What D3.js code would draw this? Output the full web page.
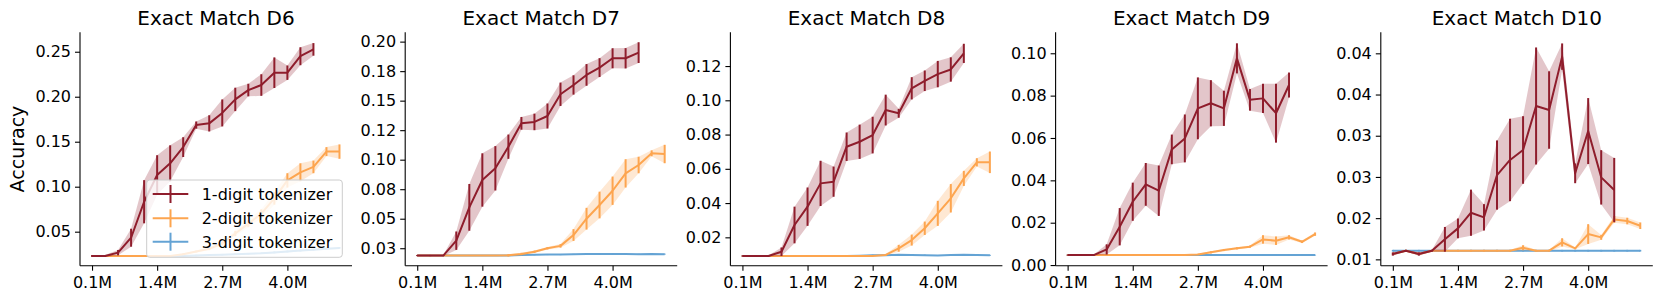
<!DOCTYPE html>
<meta charset="utf-8" />
<script src="https://d3js.org/d3.v7.min.js"></script>
<style>
  body { margin: 0; background: #fff; }
  text { font-family: "DejaVu Sans", sans-serif; fill: #000; }
</style>
<div id="chart"></div>
<script>
  // training samples (millions) at each checkpoint
  const steps = [0.10, 0.36, 0.62, 0.88, 1.14, 1.40, 1.66, 1.92, 2.18, 2.44,
                 2.70, 2.96, 3.22, 3.48, 3.74, 4.00, 4.26, 4.52, 4.78, 5.04];
  const xTicks = [0.1, 1.4, 2.7, 4.0];
  const xTickLabels = ["0.1M", "1.4M", "2.7M", "4.0M"];

  const titles = ["Exact Match D6", "Exact Match D7", "Exact Match D8", "Exact Match D9", "Exact Match D10"];
  const seriesNames = ["1-digit tokenizer", "2-digit tokenizer", "3-digit tokenizer"];

  // y ticks per panel
  const yTicksD6 = [0.05, 0.10, 0.15, 0.20, 0.25];
  const yLabelsD6 = ["0.05", "0.10", "0.15", "0.20", "0.25"];
  const yTicksD7 = [0.025, 0.05, 0.075, 0.10, 0.125, 0.15, 0.175, 0.20];
  const yLabelsD7 = ["0.03", "0.05", "0.08", "0.10", "0.12", "0.15", "0.18", "0.20"];
  const yTicksD8 = [0.02, 0.04, 0.06, 0.08, 0.10, 0.12];
  const yLabelsD8 = ["0.02", "0.04", "0.06", "0.08", "0.10", "0.12"];
  const yTicksD9 = [0.00, 0.02, 0.04, 0.06, 0.08, 0.10];
  const yLabelsD9 = ["0.00", "0.02", "0.04", "0.06", "0.08", "0.10"];
  const yTicksD10 = [0.010, 0.015, 0.020, 0.025, 0.030, 0.035];
  const yLabelsD10 = ["0.01", "0.02", "0.03", "0.03", "0.04", "0.04"];

  // D6
  const d6One = [0.023, 0.023, 0.0267, 0.0433, 0.0833, 0.113, 0.126, 0.144, 0.1685, 0.1704,
                 0.182, 0.197, 0.2074, 0.213, 0.2267, 0.2267, 0.245, 0.2526];
  const d6OneErr = [0.001, 0.001, 0.003, 0.010, 0.024, 0.022, 0.020, 0.011, 0.004, 0.009,
                    0.015, 0.013, 0.007, 0.012, 0.017, 0.008, 0.010, 0.007];
  const d6Two = [0.023, 0.023, 0.023, 0.023, 0.023, 0.023, 0.023, 0.025, 0.028, 0.031,
                 0.037, 0.048, 0.059, 0.070, 0.087, 0.107, 0.116, 0.122, 0.139, 0.139];
  const d6TwoErr = [0.0005, 0.0005, 0.0005, 0.0005, 0.0005, 0.0005, 0.0005, 0.001, 0.001, 0.0015,
                    0.002, 0.003, 0.004, 0.005, 0.007, 0.008, 0.010, 0.007, 0.005, 0.008];
  const d6Three = [0.023, 0.023, 0.023, 0.023, 0.023, 0.023, 0.023, 0.023, 0.0235, 0.024,
                   0.0245, 0.025, 0.0255, 0.026, 0.027, 0.028, 0.029, 0.030, 0.031, 0.032];
  const d6ThreeErr = [0.0005, 0.0005, 0.0005, 0.0005, 0.0005, 0.0005, 0.0005, 0.0005, 0.0008, 0.0008,
                      0.0008, 0.0008, 0.0008, 0.0008, 0.001, 0.001, 0.001, 0.001, 0.001, 0.001];

  // D7
  const d7One = [0.0188, 0.0188, 0.0188, 0.0314, 0.0596, 0.0828, 0.0927, 0.111, 0.1308, 0.132,
                 0.137, 0.1554, 0.1633, 0.1718, 0.178, 0.1859, 0.1859, 0.1907];
  const d7OneErr = [0.0005, 0.0005, 0.0005, 0.0078, 0.0198, 0.0226, 0.0188, 0.0103, 0.0054, 0.007,
                    0.0106, 0.0099, 0.0082, 0.0092, 0.008, 0.0085, 0.0086, 0.0088];
  const d7Two = [0.0188, 0.0188, 0.0188, 0.0188, 0.0188, 0.0188, 0.0188, 0.019, 0.0201, 0.022,
                 0.025, 0.027, 0.0362, 0.050, 0.0616, 0.0737, 0.0884, 0.0955, 0.1054, 0.1048];
  const d7TwoErr = [0.0003, 0.0003, 0.0003, 0.0003, 0.0003, 0.0003, 0.0003, 0.001, 0.001, 0.001,
                    0.001, 0.0015, 0.005, 0.0092, 0.0113, 0.012, 0.012, 0.007, 0.0025, 0.0078];
  const d7Three = [0.0188, 0.0188, 0.0188, 0.0188, 0.0188, 0.0188, 0.0188, 0.0188, 0.0192, 0.0195,
                   0.0196, 0.0196, 0.0198, 0.0201, 0.0201, 0.0202, 0.0201, 0.0199, 0.0201, 0.0200];
  const d7ThreeErr = [0.0003, 0.0003, 0.0003, 0.0003, 0.0003, 0.0003, 0.0003, 0.0003, 0.0004, 0.0004,
                      0.0004, 0.0004, 0.0004, 0.0004, 0.0004, 0.0004, 0.0004, 0.0004, 0.0004, 0.0004];

  // D8
  const d8One = [0.0091, 0.0091, 0.0091, 0.0116, 0.0272, 0.0379, 0.0515, 0.0525, 0.0729, 0.0758,
                 0.0797, 0.0943, 0.0924, 0.107, 0.1114, 0.1153, 0.118, 0.1274];
  const d8OneErr = [0.0003, 0.0003, 0.0003, 0.0025, 0.0107, 0.0112, 0.0132, 0.0088, 0.0083, 0.010,
                    0.0107, 0.009, 0.0026, 0.0065, 0.006, 0.0077, 0.0071, 0.0056];
  const d8Two = [0.0091, 0.0091, 0.0091, 0.0091, 0.0091, 0.0091, 0.0091, 0.0091, 0.0091, 0.0091,
                 0.0091, 0.0097, 0.0136, 0.0184, 0.0253, 0.034, 0.0428, 0.0544, 0.0638, 0.0638];
  const d8TwoErr = [0.0002, 0.0002, 0.0002, 0.0002, 0.0002, 0.0002, 0.0002, 0.0002, 0.0002, 0.0002,
                    0.0002, 0.0005, 0.002, 0.0032, 0.0039, 0.0073, 0.0083, 0.0044, 0.0024, 0.0063];
  const d8Three = [0.0091, 0.0091, 0.0091, 0.0091, 0.0091, 0.0091, 0.0091, 0.0091, 0.0091, 0.0093,
                   0.0095, 0.0096, 0.0098, 0.0097, 0.0096, 0.0094, 0.0097, 0.0098, 0.0097, 0.0095];
  const d8ThreeErr = [0.0002, 0.0002, 0.0002, 0.0002, 0.0002, 0.0002, 0.0002, 0.0002, 0.0002, 0.0003,
                      0.0003, 0.0003, 0.0003, 0.0003, 0.0003, 0.0003, 0.0003, 0.0003, 0.0003, 0.0003];

  // D9
  const d9One = [0.0047, 0.0047, 0.0047, 0.0074, 0.0181, 0.0299, 0.0381, 0.0351, 0.0546, 0.0598,
                 0.074, 0.0764, 0.074, 0.0976, 0.078, 0.0787, 0.0717, 0.085];
  const d9OneErr = [0.0002, 0.0002, 0.0002, 0.0024, 0.0088, 0.009, 0.0101, 0.0119, 0.007, 0.0113,
                    0.0146, 0.0109, 0.0083, 0.0071, 0.0051, 0.0069, 0.0139, 0.0059];
  const d9Two = [0.0047, 0.0047, 0.0047, 0.0047, 0.0047, 0.0047, 0.0047, 0.0047, 0.0047, 0.0047,
                 0.0050, 0.0060, 0.0071, 0.0079, 0.0087, 0.0121, 0.0115, 0.0131, 0.0110, 0.0146];
  const d9TwoErr = [0.0002, 0.0002, 0.0002, 0.0002, 0.0002, 0.0002, 0.0002, 0.0002, 0.0002, 0.0002,
                    0.0003, 0.0005, 0.0005, 0.0005, 0.0005, 0.002, 0.002, 0.001, 0.0006, 0.0008];
  const d9Three = [0.0047, 0.0047, 0.0047, 0.0047, 0.0047, 0.0047, 0.0047, 0.0047, 0.0047, 0.0047,
                   0.0047, 0.0047, 0.0047, 0.0047, 0.0047, 0.0047, 0.0047, 0.0047, 0.0047, 0.0047];
  const d9ThreeErr = [0.0002, 0.0002, 0.0002, 0.0002, 0.0002, 0.0002, 0.0002, 0.0002, 0.0002, 0.0002,
                      0.0002, 0.0002, 0.0002, 0.0002, 0.0002, 0.0002, 0.0002, 0.0002, 0.0002, 0.0002];

  // D10
  const d10One = [0.01065, 0.01105, 0.01065, 0.01105, 0.01243, 0.01376, 0.01566, 0.0151, 0.02023, 0.02206,
                  0.02327, 0.02861, 0.02812, 0.0346, 0.02044, 0.02557, 0.01995, 0.01841];
  const d10OneErr = [0.0002, 0.0001, 0.0002, 0.0001, 0.0015, 0.0012, 0.0028, 0.0016, 0.0042, 0.005,
                     0.0041, 0.0071, 0.0047, 0.0016, 0.0012, 0.004, 0.0033, 0.0039];
  const d10Two = [0.01065, 0.01105, 0.01065, 0.01105, 0.01105, 0.01105, 0.01105, 0.01105, 0.01105, 0.01105,
                  0.01141, 0.01105, 0.01105, 0.01206, 0.01133, 0.01307, 0.01267, 0.01485, 0.01465, 0.01408];
  const d10TwoErr = [0.0001, 0.0001, 0.0001, 0.0001, 0.0001, 0.0001, 0.0001, 0.0001, 0.0001, 0.0001,
                     0.0003, 0.0001, 0.0001, 0.0005, 0.0001, 0.0012, 0.0003, 0.0004, 0.0004, 0.0004];
  const d10Three = [0.01105, 0.01105, 0.01105, 0.01105, 0.01105, 0.01105, 0.01105, 0.01105, 0.01105, 0.01105,
                    0.01105, 0.01105, 0.01105, 0.01105, 0.01105, 0.01105, 0.01105, 0.01105, 0.01105, 0.01105];
  const d10ThreeErr = [0.0001, 0.0001, 0.0001, 0.0001, 0.0001, 0.0001, 0.0001, 0.0001, 0.0001, 0.0001,
                       0.0001, 0.0001, 0.0001, 0.0001, 0.0001, 0.0001, 0.0001, 0.0001, 0.0001, 0.0001];

  const colors = ["#8f1d2c", "#fda54f", "#64a3d4"];

  const panels = [
    { title: titles[0], ticks: yTicksD6, labels: yLabelsD6, domain: [0.0122, 0.2716],
      series: [[d6One, d6OneErr], [d6Two, d6TwoErr], [d6Three, d6ThreeErr]] },
    { title: titles[1], ticks: yTicksD7, labels: yLabelsD7, domain: [0.0102, 0.2079],
      series: [[d7One, d7OneErr], [d7Two, d7TwoErr], [d7Three, d7ThreeErr]] },
    { title: titles[2], ticks: yTicksD8, labels: yLabelsD8, domain: [0.00344, 0.1397],
      series: [[d8One, d8OneErr], [d8Two, d8TwoErr], [d8Three, d8ThreeErr]] },
    { title: titles[3], ticks: yTicksD9, labels: yLabelsD9, domain: [-0.0003, 0.1099],
      series: [[d9One, d9OneErr], [d9Two, d9TwoErr], [d9Three, d9ThreeErr]] },
    { title: titles[4], ticks: yTicksD10, labels: yLabelsD10, domain: [0.00923, 0.03755],
      series: [[d10One, d10OneErr], [d10Two, d10TwoErr], [d10Three, d10ThreeErr]] }
  ];

  const width = 1661, height = 301;
  const axTop = 32.3, axBottom = 265.7, axWidth = 272;
  const panelGap = 325.2, firstLeft = 80;

  const svg = d3.select("#chart").append("svg")
    .attr("width", width)
    .attr("height", height);

  const x = d3.scaleLinear().domain([-0.14, 5.29]).range([0, axWidth]);

  panels.forEach(function (p, k) {
    const g = svg.append("g")
      .attr("transform", `translate(${firstLeft + k * panelGap},0)`);
    const y = d3.scaleLinear().domain(p.domain).range([axBottom, axTop]);

    // draw 3-digit first so 1-digit sits on top
    [2, 1, 0].forEach(function (s) {
      const mean = p.series[s][0], err = p.series[s][1];
      const pts = mean.map((m, i) => ({ x: steps[i], m: m, e: err[i] }));
      const c = colors[s];

      g.append("path")
        .datum(pts)
        .attr("fill", c)
        .attr("fill-opacity", 0.25)
        .attr("stroke", "none")
        .attr("d", d3.area()
          .x(d => x(d.x))
          .y0(d => y(d.m - d.e))
          .y1(d => y(d.m + d.e)));

      g.append("path")
        .datum(pts)
        .attr("fill", "none")
        .attr("stroke", c)
        .attr("stroke-width", 2)
        .attr("stroke-linejoin", "round")
        .attr("d", d3.line().x(d => x(d.x)).y(d => y(d.m)));

      g.selectAll(null)
        .data(pts)
        .enter()
        .append("line")
        .attr("x1", d => x(d.x))
        .attr("x2", d => x(d.x))
        .attr("y1", d => y(d.m - d.e))
        .attr("y2", d => y(d.m + d.e))
        .attr("stroke", c)
        .attr("stroke-width", 2);
    });

    // axes
    const xAxis = g.append("g")
      .attr("transform", `translate(0,${axBottom})`)
      .call(d3.axisBottom(x)
        .tickValues(xTicks)
        .tickFormat((d, i) => xTickLabels[i])
        .tickSize(5)
        .tickSizeOuter(0)
        .tickPadding(6));

    const yAxis = g.append("g")
      .call(d3.axisLeft(y)
        .tickValues(p.ticks)
        .tickFormat((d, i) => p.labels[i])
        .tickSize(5)
        .tickSizeOuter(0)
        .tickPadding(4));

    [xAxis, yAxis].forEach(function (a) {
      a.selectAll("text")
        .style("font-size", "16px")
        .style("font-family", "DejaVu Sans, sans-serif");
      a.select(".domain").attr("stroke", "#000").attr("stroke-width", 1.1);
      a.selectAll(".tick line").attr("stroke", "#000").attr("stroke-width", 1.1);
    });
    // extend left spine over the full axes height
    yAxis.select(".domain").attr("d", `M0,${axBottom}V${axTop}`);
    xAxis.select(".domain").attr("d", `M0,0H${axWidth}`);

    g.append("text")
      .attr("x", axWidth / 2)
      .attr("y", 25)
      .attr("text-anchor", "middle")
      .style("font-size", "20px")
      .text(p.title);
  });

  // y label
  svg.append("text")
    .attr("transform", `translate(24,149) rotate(-90)`)
    .attr("text-anchor", "middle")
    .style("font-size", "19px")
    .text("Accuracy");

  // legend on the first panel
  const legend = svg.append("g");
  legend.append("rect")
    .attr("x", 146.7)
    .attr("y", 180)
    .attr("width", 195.6)
    .attr("height", 77.3)
    .attr("rx", 3)
    .attr("fill", "#fff")
    .attr("fill-opacity", 0.8)
    .attr("stroke", "#cccccc")
    .attr("stroke-width", 1);

  const rowY = [194, 218.3, 241.7];
  seriesNames.forEach(function (name, i) {
    const ry = rowY[i];
    legend.append("line")
      .attr("x1", 152.7).attr("x2", 188.3)
      .attr("y1", ry).attr("y2", ry)
      .attr("stroke", colors[i]).attr("stroke-width", 2);
    legend.append("line")
      .attr("x1", 170.5).attr("x2", 170.5)
      .attr("y1", ry - 9).attr("y2", ry + 9)
      .attr("stroke", colors[i]).attr("stroke-width", 2);
    legend.append("text")
      .attr("x", 201.7)
      .attr("y", ry + 5.8)
      .style("font-size", "16px")
      .text(name);
  });
</script>
